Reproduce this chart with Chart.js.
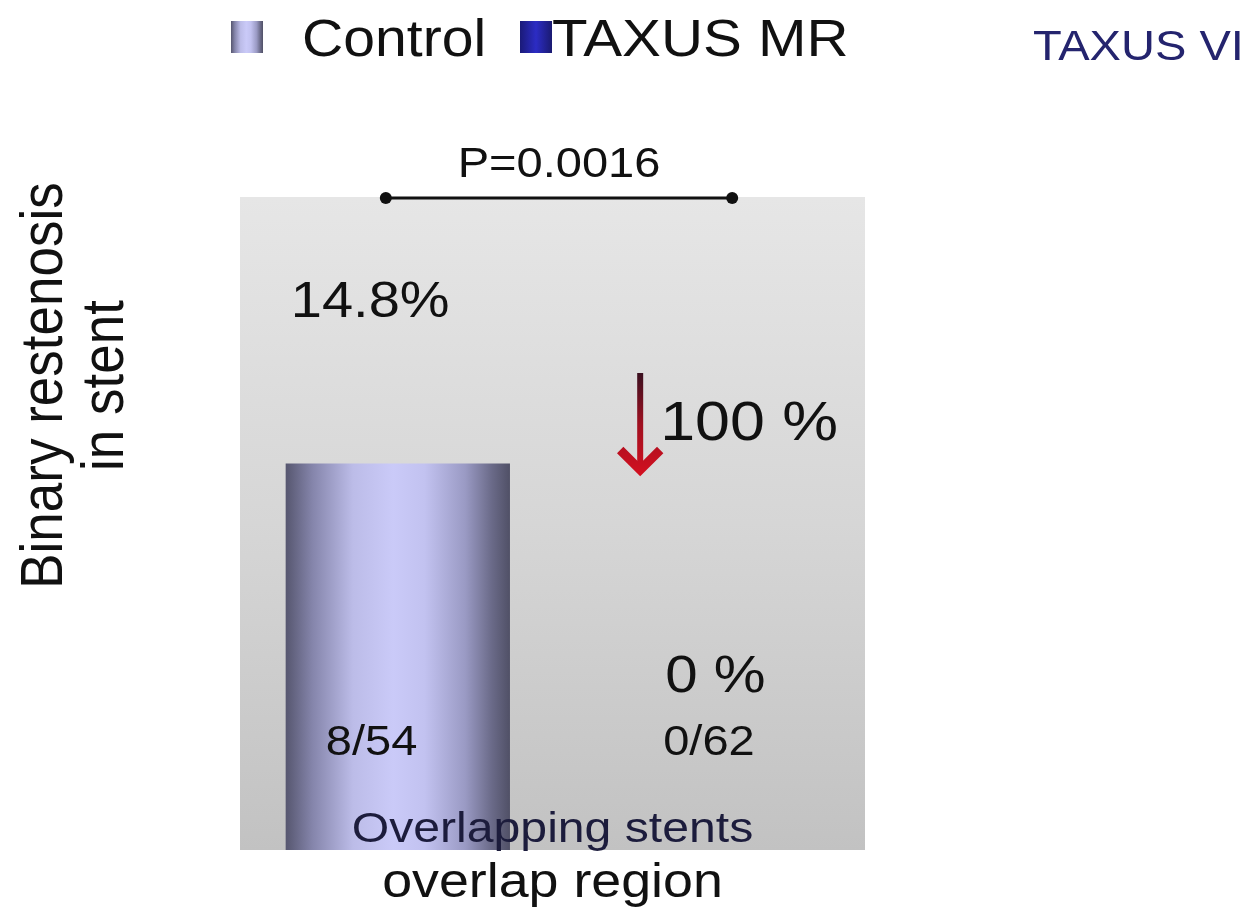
<!DOCTYPE html>
<html>
<head>
<meta charset="utf-8">
<script src="https://cdn.jsdelivr.net/npm/chart.js@4/dist/chart.umd.min.js"></script>
<style>
html,body{margin:0;padding:0;background:#fff;}
canvas{display:block;}
</style>
</head>
<body>
<canvas id="c" width="1256" height="913"></canvas>
<script>
// ---- data ----
const categories = ['Overlapping stents'];
const seriesNames = ['Control', 'TAXUS MR'];
const controlValues = [14.8];
const taxusValues = [0];
const valueLabels = ['14.8%', '0 %'];
const countLabels = ['8/54', '0/62'];
const pValueLabel = 'P=0.0016';
const reductionLabel = '100 %';
const xTitle = 'overlap region';
const yTitleLines = ['Binary restenosis', 'in stent'];
const cornerTitle = 'TAXUS VI';
const yMin = 0;
const yMax = 25;

// ---- styling ----
const FONT = '"Liberation Sans", Arial, sans-serif';
const SX = 1.12; // horizontal stretch of the original slide text
const CAT_PCT = 0.99, BAR_PCT = 0.725;

function barGeom(chart, datasetIndex, dataIndex) {
  const xs = chart.scales.x;
  const n = chart.data.labels.length;
  const nd = chart.data.datasets.length;
  const center = xs.getPixelForValue(dataIndex);
  const catW = (xs.width / n) * CAT_PCT;
  const slot = catW / nd;
  const c = center - catW / 2 + slot * (datasetIndex + 0.5);
  const w = slot * BAR_PCT;
  return { x: c, w: w };
}

function controlGradient(ctx, x0, x1) {
  const g = ctx.createLinearGradient(x0, 0, x1, 0);
  g.addColorStop(0.00, '#56566f');
  g.addColorStop(0.12, '#8585ab');
  g.addColorStop(0.30, '#bcbce8');
  g.addColorStop(0.48, '#cacaf8');
  g.addColorStop(0.62, '#c2c2f0');
  g.addColorStop(0.80, '#9a9ac4');
  g.addColorStop(0.92, '#6a6a88');
  g.addColorStop(1.00, '#505066');
  return g;
}
function taxusGradient(ctx, x0, x1) {
  const g = ctx.createLinearGradient(x0, 0, x1, 0);
  g.addColorStop(0, '#1a1a78');
  g.addColorStop(0.5, '#2c2cc4');
  g.addColorStop(1, '#1a1a70');
  return g;
}

function txt(ctx, s, x, y, size, opts) {
  opts = opts || {};
  ctx.save();
  ctx.font = (opts.weight || 'normal') + ' ' + size + 'px ' + FONT;
  ctx.fillStyle = opts.color || '#111';
  ctx.textAlign = opts.align || 'left';
  ctx.textBaseline = 'alphabetic';
  ctx.translate(x, y);
  ctx.scale(opts.sx || SX, 1);
  ctx.fillText(s, 0, 0);
  ctx.restore();
}

const decorPlugin = {
  id: 'decor',
  beforeDraw(chart) {
    const { ctx, chartArea: a } = chart;
    ctx.save();
    ctx.fillStyle = '#ffffff';
    ctx.fillRect(0, 0, chart.width, chart.height);
    const g = ctx.createLinearGradient(0, a.top, 0, a.bottom);
    g.addColorStop(0, '#e6e6e6');
    g.addColorStop(0.5, '#d6d6d6');
    g.addColorStop(1, '#c2c2c2');
    ctx.fillStyle = g;
    ctx.fillRect(a.left, a.top, a.right - a.left, a.bottom - a.top);
    ctx.restore();
  },
  afterDraw(chart) {
    const { ctx, chartArea: a } = chart;
    const b0 = barGeom(chart, 0, 0);
    const b1 = barGeom(chart, 1, 0);
    const ys = chart.scales.y;
    const midX = (a.left + a.right) / 2;

    // legend
    const sq = 32;
    ctx.save();
    ctx.fillStyle = controlGradient(ctx, 231, 231 + sq);
    ctx.fillRect(231, 21, sq, sq);
    ctx.fillStyle = taxusGradient(ctx, 520, 520 + sq);
    ctx.fillRect(520, 21, sq, sq);
    ctx.restore();
    txt(ctx, seriesNames[0], 302, 56, 51);
    txt(ctx, seriesNames[1], 552, 56, 52);

    // corner title
    txt(ctx, cornerTitle, 1033, 60, 42, { color: '#24246e' });

    // significance bracket
    const bx0 = b0.x - 12, bx1 = b1.x + 25, by = a.top + 1;
    ctx.save();
    ctx.strokeStyle = '#111';
    ctx.lineWidth = 3;
    ctx.beginPath(); ctx.moveTo(bx0, by); ctx.lineTo(bx1, by); ctx.stroke();
    ctx.fillStyle = '#111';
    ctx.beginPath(); ctx.arc(bx0, by, 6, 0, Math.PI * 2); ctx.fill();
    ctx.beginPath(); ctx.arc(bx1, by, 6, 0, Math.PI * 2); ctx.fill();
    ctx.restore();
    txt(ctx, pValueLabel, (bx0 + bx1) / 2, 177, 42, { align: 'center' });

    // value labels
    txt(ctx, valueLabels[0], b0.x - 107, 317, 50);
    txt(ctx, valueLabels[1], b1.x - 42, 692, 52);

    // reduction arrow
    const ax = b1.x - 67;
    ctx.save();
    const ag = ctx.createLinearGradient(0, 373, 0, 476);
    ag.addColorStop(0, '#3a1020');
    ag.addColorStop(0.5, '#a01020');
    ag.addColorStop(1, '#d41020');
    ctx.strokeStyle = ag;
    ctx.fillStyle = ag;
    ctx.lineWidth = 6;
    ctx.beginPath(); ctx.moveTo(ax, 373); ctx.lineTo(ax, 466); ctx.stroke();
    ctx.lineWidth = 9;
    ctx.lineJoin = 'miter';
    ctx.lineCap = 'butt';
    ctx.beginPath();
    ctx.moveTo(ax - 20, 450);
    ctx.lineTo(ax, 470);
    ctx.lineTo(ax + 20, 450);
    ctx.stroke();
    ctx.restore();
    txt(ctx, reductionLabel, ax + 20, 440, 56);

    // counts
    txt(ctx, countLabels[0], b0.x - 72, 755, 42);
    txt(ctx, countLabels[1], b1.x - 44, 755, 42);

    // category label inside plot
    txt(ctx, categories[0], midX, 842, 43, { align: 'center', color: '#1c1c3c' });

    // x title
    txt(ctx, xTitle, midX, 897, 48, { align: 'center' });

    // y title (rotated)
    const yc = (ys.top + ys.bottom) / 2 - 138;
    [[yTitleLines[0], 62], [yTitleLines[1], 123]].forEach(([s, x]) => {
      ctx.save();
      ctx.translate(x, yc);
      ctx.rotate(-Math.PI / 2);
      ctx.scale(1, SX);
      ctx.font = '53px ' + FONT;
      ctx.fillStyle = '#111';
      ctx.textAlign = 'center';
      ctx.textBaseline = 'alphabetic';
      ctx.fillText(s, 0, 0);
      ctx.restore();
    });
  }
};

new Chart(document.getElementById('c'), {
  type: 'bar',
  data: {
    labels: categories,
    datasets: [
      {
        label: seriesNames[0],
        data: controlValues,
        backgroundColor: (c) => {
          const ch = c.chart;
          if (!ch.chartArea || !ch.scales.x) return '#b8b8e6';
          const g = barGeom(ch, c.datasetIndex, c.dataIndex || 0);
          return controlGradient(ch.ctx, g.x - g.w / 2, g.x + g.w / 2);
        },
        borderWidth: 0,
        categoryPercentage: CAT_PCT,
        barPercentage: BAR_PCT
      },
      {
        label: seriesNames[1],
        data: taxusValues,
        backgroundColor: (c) => {
          const ch = c.chart;
          if (!ch.chartArea || !ch.scales.x) return '#2a2ab8';
          const g = barGeom(ch, c.datasetIndex, c.dataIndex || 0);
          return taxusGradient(ch.ctx, g.x - g.w / 2, g.x + g.w / 2);
        },
        borderWidth: 0,
        categoryPercentage: CAT_PCT,
        barPercentage: BAR_PCT
      }
    ]
  },
  options: {
    responsive: false,
    devicePixelRatio: 1,
    animation: false,
    layout: { padding: { left: 240, right: 391, top: 197, bottom: 63 } },
    scales: {
      x: { display: false, offset: true },
      y: { display: false, min: yMin, max: yMax }
    },
    plugins: {
      legend: { display: false },
      tooltip: { enabled: false }
    }
  },
  plugins: [decorPlugin]
});
</script>
</body>
</html>
